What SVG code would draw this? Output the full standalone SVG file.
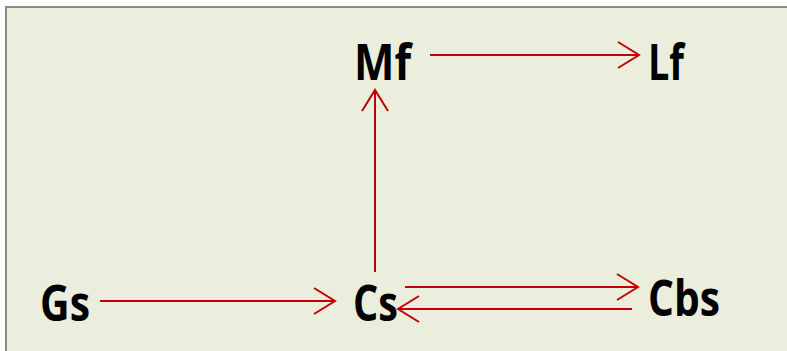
<svg xmlns="http://www.w3.org/2000/svg" width="787" height="351" viewBox="0 0 787 351">
  <defs>
    <style>
      .lbl { font-family: "Open Sans", "Noto Sans", "Liberation Sans", sans-serif; font-weight: 700; font-size: 50px; fill: #000; }
      .edge { stroke: #C00000; stroke-width: 2; fill: none; }
    </style>
    <marker id="open" viewBox="0 0 24 28" refX="22" refY="14" markerWidth="24" markerHeight="28" markerUnits="userSpaceOnUse" orient="auto">
      <path d="M1,1 L22,14 L1,27" fill="none" stroke="#C00000" stroke-width="2"/>
    </marker>
  </defs>

  <!-- panel -->
  <rect x="0" y="0" width="787" height="351" fill="#ffffff"/>
  <rect x="6" y="7" width="790" height="360" fill="#EBEEDD" stroke="#8A8A8A" stroke-width="2"/>

  <g id="connectors">
    <line class="edge" x1="430" y1="55" x2="639" y2="55" marker-end="url(#open)"/>
    <line class="edge" x1="375" y1="272" x2="375" y2="90" marker-end="url(#open)"/>
    <line class="edge" x1="100" y1="301" x2="335" y2="301" marker-end="url(#open)"/>
    <line class="edge" x1="405" y1="287" x2="638" y2="287" marker-end="url(#open)"/>
    <line class="edge" x1="632" y1="309" x2="398" y2="309" marker-end="url(#open)"/>
  </g>

  <g id="node-Mf"><text class="lbl" x="354" y="80" textLength="57" lengthAdjust="spacingAndGlyphs">Mf</text></g>
  <g id="node-Lf"><text class="lbl" x="648" y="80" textLength="36" lengthAdjust="spacingAndGlyphs">Lf</text></g>
  <g id="node-Gs"><text class="lbl" x="40" y="321" textLength="50" lengthAdjust="spacingAndGlyphs">Gs</text></g>
  <g id="node-Cs"><text class="lbl" x="353" y="321" textLength="45" lengthAdjust="spacingAndGlyphs">Cs</text></g>
  <g id="node-Cbs"><text class="lbl" x="648" y="316" textLength="72" lengthAdjust="spacingAndGlyphs">Cbs</text></g>
</svg>
